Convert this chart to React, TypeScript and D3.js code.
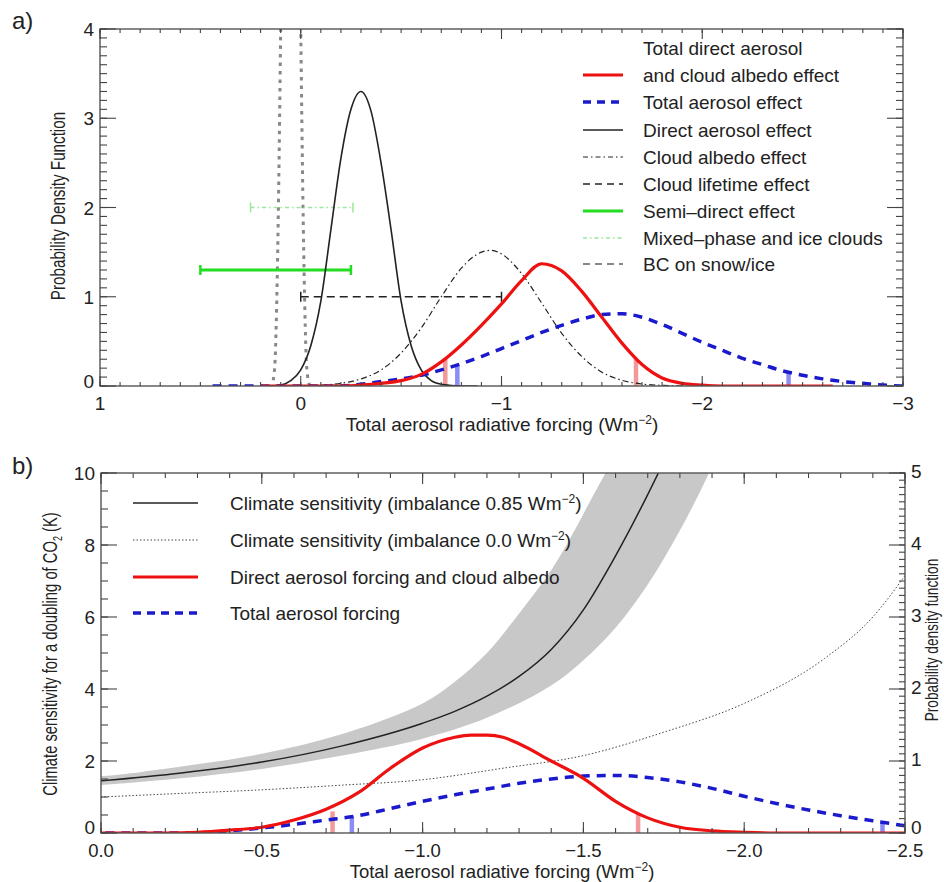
import React from 'react';
import * as d3 from 'd3';

const FONT = '"Liberation Sans", Arial, Helvetica, sans-serif';
const TXT = '#222';

// ---------- Panel a data (x = forcing Wm-2, y = PDF) ----------
const directAerosol: [number, number][] = [
  [0.15, 0], [0.1, 0.01], [0.05, 0.06], [0.0, 0.18], [-0.05, 0.45], [-0.1, 0.95], [-0.15, 1.75],
  [-0.2, 2.55], [-0.25, 3.1], [-0.3, 3.3], [-0.35, 3.08], [-0.4, 2.5], [-0.45, 1.75], [-0.5, 0.95],
  [-0.55, 0.45], [-0.6, 0.18], [-0.65, 0.06], [-0.7, 0.02], [-0.8, 0], [-0.88, 0],
];
const cloudAlbedo: [number, number][] = [
  [0.05, 0], [-0.1, 0.01], [-0.2, 0.03], [-0.3, 0.08], [-0.4, 0.18], [-0.5, 0.37], [-0.6, 0.65],
  [-0.7, 1.0], [-0.8, 1.32], [-0.9, 1.5], [-0.95, 1.52], [-1.0, 1.48], [-1.1, 1.26], [-1.2, 0.93],
  [-1.3, 0.59], [-1.4, 0.33], [-1.5, 0.155], [-1.6, 0.064], [-1.7, 0.022], [-1.8, 0.007], [-1.9, 0],
];
const totalDirectCloud: [number, number][] = [
  [0.2, 0], [0.0, 0], [-0.2, 0.0], [-0.3, 0.01], [-0.4, 0.03], [-0.5, 0.06], [-0.6, 0.13], [-0.7, 0.27],
  [-0.8, 0.46], [-0.9, 0.68], [-1.0, 0.92], [-1.1, 1.18], [-1.2, 1.37], [-1.3, 1.29], [-1.4, 1.06],
  [-1.5, 0.77], [-1.6, 0.48], [-1.7, 0.24], [-1.8, 0.09], [-1.9, 0.03], [-2.0, 0.01], [-2.1, 0], [-2.65, 0],
];
const totalAerosol: [number, number][] = [
  [0.47, 0], [0.0, 0], [-0.2, 0.0], [-0.3, 0.02], [-0.4, 0.05], [-0.5, 0.08], [-0.6, 0.12], [-0.7, 0.18],
  [-0.8, 0.25], [-0.9, 0.33], [-1.0, 0.42], [-1.1, 0.51], [-1.2, 0.6], [-1.3, 0.68], [-1.4, 0.75],
  [-1.5, 0.8], [-1.6, 0.81], [-1.7, 0.77], [-1.8, 0.69], [-1.9, 0.59], [-2.0, 0.49], [-2.1, 0.4],
  [-2.2, 0.31], [-2.3, 0.24], [-2.4, 0.17], [-2.5, 0.12], [-2.6, 0.08], [-2.7, 0.05], [-2.8, 0.03],
  [-2.9, 0.01], [-3.0, 0],
];
const bcSnow: [number, number][] = [
  [0.145, 0], [0.13, 0.2], [0.12, 0.9], [0.11, 2.2], [0.1, 4.0], [0.08, 8], [0.05, 12],
  [0.02, 8], [0.0, 4.0], [-0.01, 2.2], [-0.02, 0.9], [-0.03, 0.2], [-0.045, 0],
];
// horizontal range bars: [from, to, level]
const cloudLifetime = [0.0, -1.0, 1.0];
const semiDirect = [0.5, -0.25, 1.3];
const mixedPhase = [0.25, -0.26, 2.0];
// 5% / 95% marker bars: [x, height]
const redMarksA: [number, number][] = [[-0.72, 0.3], [-1.67, 0.3]];
const blueMarksA: [number, number][] = [[-0.78, 0.24], [-2.43, 0.15]];

// ---------- Panel b data ----------
const csImb085: [number, number][] = [
  [0, 1.45], [-0.25, 1.67], [-0.5, 1.97], [-0.75, 2.42], [-1.0, 3.05], [-1.1, 3.38], [-1.2, 3.8],
  [-1.3, 4.35], [-1.4, 5.1], [-1.5, 6.2], [-1.6, 7.7], [-1.7, 9.4], [-1.76, 10.5],
];
const bandUpper: [number, number][] = [
  [0, 1.58], [-0.25, 1.85], [-0.5, 2.2], [-0.75, 2.75], [-1.0, 3.6], [-1.1, 4.2], [-1.2, 5.0],
  [-1.3, 6.1], [-1.4, 7.3], [-1.46, 8.2], [-1.52, 9.2], [-1.58, 10.2], [-1.62, 11],
];
const bandLower: [number, number][] = [
  [0, 1.33], [-0.25, 1.52], [-0.5, 1.78], [-0.75, 2.15], [-1.0, 2.62], [-1.2, 3.2], [-1.4, 4.1],
  [-1.5, 4.8], [-1.6, 5.7], [-1.7, 6.9], [-1.8, 8.4], [-1.9, 10.2], [-1.93, 11],
];
const csImb0: [number, number][] = [
  [0, 1.0], [-0.25, 1.1], [-0.5, 1.2], [-0.75, 1.33], [-1.0, 1.48], [-1.25, 1.8], [-1.5, 2.15],
  [-1.75, 2.8], [-2.0, 3.6], [-2.25, 4.85], [-2.4, 6.0], [-2.5, 7.15],
];
const pdfDirectCloudB: [number, number][] = [
  [0, 0], [-0.2, 0], [-0.3, 0.01], [-0.4, 0.04], [-0.5, 0.08], [-0.6, 0.18], [-0.7, 0.33], [-0.8, 0.56],
  [-0.9, 0.9], [-1.0, 1.18], [-1.1, 1.33], [-1.15, 1.36], [-1.2, 1.36], [-1.25, 1.33], [-1.3, 1.24],
  [-1.4, 1.0], [-1.5, 0.76], [-1.6, 0.44], [-1.7, 0.21], [-1.8, 0.08], [-1.9, 0.03], [-2.0, 0.01],
  [-2.1, 0], [-2.5, 0],
];
const pdfTotalB: [number, number][] = [
  [0, 0], [-0.3, 0], [-0.4, 0.03], [-0.5, 0.07], [-0.6, 0.12], [-0.7, 0.18], [-0.8, 0.24], [-0.9, 0.34],
  [-1.0, 0.44], [-1.1, 0.53], [-1.2, 0.61], [-1.3, 0.69], [-1.4, 0.75], [-1.5, 0.79], [-1.6, 0.8],
  [-1.7, 0.77], [-1.8, 0.71], [-1.9, 0.62], [-2.0, 0.51], [-2.1, 0.41], [-2.2, 0.32], [-2.3, 0.24],
  [-2.4, 0.17], [-2.5, 0.1],
];
const redMarksB: [number, number][] = [[-0.72, 0.3], [-1.67, 0.27]];
const blueMarksB: [number, number][] = [[-0.78, 0.23], [-2.43, 0.16]];

const xTicksA = ['1', '0', '−1', '−2', '−3'];
const xTickValsA = [1, 0, -1, -2, -3];
const yTicksA = [0, 1, 2, 3, 4];
const xTicksB = [0, -0.5, -1.0, -1.5, -2.0, -2.5];
const yTicksB = [0, 2, 4, 6, 8, 10];
const y2TicksB = [0, 1, 2, 3, 4, 5];

const A = { left: 100, right: 903, top: 29, bottom: 386 };
const B = { left: 101, right: 905, top: 473, bottom: 833 };

function TickSet({ scale, values, len, side, f }: any) {
  return (
    <g stroke="#444" strokeWidth={1.1}>
      {values.map((v: number, i: number) => {
        const p = scale(v);
        if (side === 'bottom') return <line key={i} x1={p} x2={p} y1={f.bottom} y2={f.bottom - len} />;
        if (side === 'top') return <line key={i} x1={p} x2={p} y1={f.top} y2={f.top + len} />;
        if (side === 'left') return <line key={i} x1={f.left} x2={f.left + len} y1={p} y2={p} />;
        return <line key={i} x1={f.right} x2={f.right - len} y1={p} y2={p} />;
      })}
    </g>
  );
}

const sortX = (d: [number, number][]) => d.slice().sort((a, b) => a[0] - b[0]);

export default function App() {
  const xa = d3.scaleLinear().domain([1, -3]).range([A.left, A.right]);
  const ya = d3.scaleLinear().domain([0, 4]).range([A.bottom, A.top]);
  const xb = d3.scaleLinear().domain([0, -2.5]).range([B.left, B.right]);
  const yb = d3.scaleLinear().domain([0, 10]).range([B.bottom, B.top]);
  const yb2 = d3.scaleLinear().domain([0, 5]).range([B.bottom, B.top]);

  const lineA = d3.line<[number, number]>().x(d => xa(d[0])).y(d => ya(d[1])).curve(d3.curveMonotoneX);
  const lineB = d3.line<[number, number]>().x(d => xb(d[0])).y(d => yb(d[1])).curve(d3.curveMonotoneX);
  const lineB2 = d3.line<[number, number]>().x(d => xb(d[0])).y(d => yb2(d[1])).curve(d3.curveMonotoneX);
  const bandLine = d3.line<[number, number]>().x(d => xb(d[0])).y(d => yb(d[1])).curve(d3.curveCatmullRom.alpha(0.5));
  const bandPts: [number, number][] = [[0.03, 1.6], ...bandUpper, ...bandLower.slice().reverse(), [0.03, 1.31]];

  const rangeBar = (r: number[], color: string, w: number, dash?: string) => {
    const [a, b, lv] = r;
    const y = ya(lv);
    return (
      <g stroke={color} strokeWidth={w} fill="none">
        <line x1={xa(a)} x2={xa(b)} y1={y} y2={y} strokeDasharray={dash} />
        <line x1={xa(a)} x2={xa(a)} y1={y - 5} y2={y + 5} strokeWidth={Math.max(1.5, w - 0.5)} />
        <line x1={xa(b)} x2={xa(b)} y1={y - 5} y2={y + 5} strokeWidth={Math.max(1.5, w - 0.5)} />
      </g>
    );
  };

  const legA = [
    { t: 'Total direct aerosol', s: null },
    { t: 'and cloud albedo effect', s: { c: '#ee1111', w: 3.2 } },
    { t: 'Total aerosol effect', s: { c: '#1a1acc', w: 3.5, d: '8,6' } },
    { t: 'Direct aerosol effect', s: { c: '#222', w: 1.6 } },
    { t: 'Cloud albedo effect', s: { c: '#222', w: 1.2, d: '5,3,1.5,3' } },
    { t: 'Cloud lifetime effect', s: { c: '#222', w: 1.6, d: '7,5' } },
    { t: 'Semi\u2013direct effect', s: { c: '#22dd22', w: 3 } },
    { t: 'Mixed\u2013phase and ice clouds', s: { c: '#9be89b', w: 1.5, d: '4,3,1.5,3' } },
    { t: 'BC on snow/ice', s: { c: '#888', w: 2, d: '7,5' } },
  ];
  const legARowY = [48, 75, 102, 130, 157, 184, 211, 238, 264];

  const legB = [
    { t: 'Climate sensitivity (imbalance 0.85 Wm', sup: true, c: '#222', w: 1.5 },
    { t: 'Climate sensitivity (imbalance 0.0 Wm', sup: true, c: '#444', w: 1, d: '1.5,2' },
    { t: 'Direct aerosol forcing and cloud albedo', sup: false, c: '#ee1111', w: 3.2 },
    { t: 'Total aerosol forcing', sup: false, c: '#1a1acc', w: 3.5, d: '8,6' },
  ];
  const legBRowY = [503, 540, 577, 613];

  return (
    <svg width={944} height={882} style={{ position: 'absolute', left: 0, top: 0, background: '#fff' }}
      fontFamily={FONT}>
      <defs>
        <clipPath id="clipA"><rect x={A.left} y={A.top} width={A.right - A.left} height={A.bottom - A.top} /></clipPath>
        <clipPath id="clipB"><rect x={B.left} y={B.top} width={B.right - B.left} height={B.bottom - B.top} /></clipPath>
      </defs>
      <rect x={0} y={0} width={944} height={882} fill="#fff" />

      {/* ================= Panel a ================= */}
      <text x={12} y={29} fontSize={24} fill={TXT}>a)</text>
      <g clipPath="url(#clipA)">
        {redMarksA.map((m, i) => (
          <line key={'ra' + i} x1={xa(m[0])} x2={xa(m[0])} y1={ya(0)} y2={ya(m[1])} stroke="#f29a9a" strokeWidth={4.5} />
        ))}
        {blueMarksA.map((m, i) => (
          <line key={'ba' + i} x1={xa(m[0])} x2={xa(m[0])} y1={ya(0)} y2={ya(m[1])} stroke="#8c8cf5" strokeWidth={4.5} />
        ))}
        <path d={lineA(sortX(bcSnow)) || ''} fill="none" stroke="#888" strokeWidth={3} strokeDasharray="3.5,5" />
        {rangeBar(mixedPhase, '#9be89b', 1.5, '4,3,1.5,3')}
        {rangeBar(semiDirect, '#22dd22', 3)}
        {rangeBar(cloudLifetime, '#222', 1.6, '8,5')}
        <path d={lineA(sortX(cloudAlbedo)) || ''} fill="none" stroke="#222" strokeWidth={1.2} strokeDasharray="6,3,1.5,3" />
        <path d={lineA(sortX(directAerosol)) || ''} fill="none" stroke="#222" strokeWidth={1.6} />
        <path d={lineA(sortX(totalAerosol)) || ''} fill="none" stroke="#1a1acc" strokeWidth={3.5} strokeDasharray="9,7" />
        <path d={lineA(sortX(totalDirectCloud)) || ''} fill="none" stroke="#ee1111" strokeWidth={3.2} />
      </g>
      <rect x={A.left} y={A.top} width={A.right - A.left} height={A.bottom - A.top} fill="none" stroke="#555" strokeWidth={1.4} />
      <TickSet scale={xa} values={d3.range(-30, 11).map(i => i / 10)} len={4} side="bottom" f={A} />
      <TickSet scale={xa} values={d3.range(-30, 11).map(i => i / 10)} len={4} side="top" f={A} />
      <TickSet scale={xa} values={xTickValsA} len={10} side="bottom" f={A} />
      <TickSet scale={xa} values={xTickValsA} len={10} side="top" f={A} />
      <TickSet scale={ya} values={d3.range(0, 41).map(i => i / 10)} len={7} side="left" f={A} />
      <TickSet scale={ya} values={d3.range(0, 41).map(i => i / 10)} len={7} side="right" f={A} />
      <TickSet scale={ya} values={yTicksA} len={16} side="left" f={A} />
      <TickSet scale={ya} values={yTicksA} len={16} side="right" f={A} />
      {yTicksA.map(v => (
        <text key={'yla' + v} x={94} y={ya(v) + (v === 0 ? 2 : 7)} textAnchor="end" fontSize={19} fill={TXT}>{v}</text>
      ))}
      {xTickValsA.map((v, i) => (
        <text key={'xla' + i} x={xa(v)} y={410} textAnchor="middle" fontSize={19} fill={TXT}>{xTicksA[i]}</text>
      ))}
      <text x={502} y={431} textAnchor="middle" fontSize={19} fill={TXT}>
        <tspan>Total aerosol radiative forcing (Wm</tspan>
        <tspan dy={-7} fontSize={12}>−2</tspan>
        <tspan dy={7}>)</tspan>
      </text>
      <text transform={`translate(65,206) rotate(-90) scale(0.76,1)`} textAnchor="middle" fontSize={20} fill={TXT}>
        Probability Density Function
      </text>
      {legA.map((r, i) => (
        <g key={'lga' + i}>
          {r.s && (
            <line x1={583} x2={623} y1={legARowY[i]} y2={legARowY[i]} stroke={r.s.c} strokeWidth={r.s.w}
              strokeDasharray={(r.s as any).d} />
          )}
          <text x={643} y={legARowY[i] + 6.5} fontSize={19} fill={TXT}>{r.t}</text>
        </g>
      ))}

      {/* ================= Panel b ================= */}
      <text x={12} y={474} fontSize={24} fill={TXT}>b)</text>
      <g clipPath="url(#clipB)">
        <path d={(bandLine(bandPts) || '') + 'Z'} fill="#c8c8c8" stroke="none" />
        {redMarksB.map((m, i) => (
          <line key={'rb' + i} x1={xb(m[0])} x2={xb(m[0])} y1={yb2(0)} y2={yb2(m[1])} stroke="#f29a9a" strokeWidth={4.5} />
        ))}
        {blueMarksB.map((m, i) => (
          <line key={'bb' + i} x1={xb(m[0])} x2={xb(m[0])} y1={yb2(0)} y2={yb2(m[1])} stroke="#8c8cf5" strokeWidth={4.5} />
        ))}
        <path d={lineB(sortX(csImb0)) || ''} fill="none" stroke="#444" strokeWidth={1} strokeDasharray="1.5,2" />
        <path d={lineB(sortX(csImb085)) || ''} fill="none" stroke="#222" strokeWidth={1.5} />
        <path d={lineB2(sortX(pdfTotalB)) || ''} fill="none" stroke="#1a1acc" strokeWidth={3.5} strokeDasharray="9,7" />
        <path d={lineB2(sortX(pdfDirectCloudB)) || ''} fill="none" stroke="#ee1111" strokeWidth={3.2} />
      </g>
      <rect x={B.left} y={B.top} width={B.right - B.left} height={B.bottom - B.top} fill="none" stroke="#555" strokeWidth={1.4} />
      <TickSet scale={xb} values={d3.range(0, 26).map(i => -i / 10)} len={5} side="bottom" f={B} />
      <TickSet scale={xb} values={d3.range(0, 26).map(i => -i / 10)} len={5} side="top" f={B} />
      <TickSet scale={xb} values={xTicksB} len={11} side="bottom" f={B} />
      <TickSet scale={xb} values={xTicksB} len={11} side="top" f={B} />
      <TickSet scale={yb} values={d3.range(0, 21).map(i => i / 2)} len={7} side="left" f={B} />
      <TickSet scale={yb} values={yTicksB} len={16} side="left" f={B} />
      <TickSet scale={yb2} values={d3.range(0, 51).map(i => i / 10)} len={6} side="right" f={B} />
      <TickSet scale={yb2} values={y2TicksB} len={16} side="right" f={B} />
      {yTicksB.map(v => (
        <text key={'ylb' + v} x={95} y={yb(v) + (v === 0 ? 1 : 7)} textAnchor="end" fontSize={19} fill={TXT}>{v}</text>
      ))}
      {y2TicksB.map(v => (
        <text key={'y2lb' + v} x={911} y={yb2(v) + (v === 0 ? 1 : 5)} textAnchor="start" fontSize={19} fill={TXT}>{v}</text>
      ))}
      {xTicksB.map((v, i) => (
        <text key={'xlb' + i} x={xb(v)} y={857} textAnchor="middle" fontSize={18.5} fill={TXT}>
          {v === 0 ? '0.0' : '−' + Math.abs(v).toFixed(1)}
        </text>
      ))}
      <text x={502} y={878} textAnchor="middle" fontSize={18.5} fill={TXT}>
        <tspan>Total aerosol radiative forcing (Wm</tspan>
        <tspan dy={-7} fontSize={12}>−2</tspan>
        <tspan dy={7}>)</tspan>
      </text>
      <text transform={`translate(57,654) rotate(-90) scale(0.74,1)`} textAnchor="middle" fontSize={20} fill={TXT}>
        <tspan>Climate sensitivity for a doubling of CO</tspan>
        <tspan dy={5} fontSize={12}>2</tspan>
        <tspan dy={-5}> (K)</tspan>
      </text>
      <text transform={`translate(938,640) rotate(-90) scale(0.72,1)`} textAnchor="middle" fontSize={19} fill={TXT}>
        Probability density function
      </text>
      {legB.map((r, i) => (
        <g key={'lgb' + i}>
          <line x1={133} x2={198} y1={legBRowY[i]} y2={legBRowY[i]} stroke={r.c} strokeWidth={r.w}
            strokeDasharray={(r as any).d} />
          <text x={230} y={legBRowY[i] + 7} fontSize={19} fill={TXT}>
            <tspan>{r.t}</tspan>
            {r.sup && <tspan dy={-7} fontSize={12}>−2</tspan>}
            {r.sup && <tspan dy={7}>)</tspan>}
          </text>
        </g>
      ))}
    </svg>
  );
}
